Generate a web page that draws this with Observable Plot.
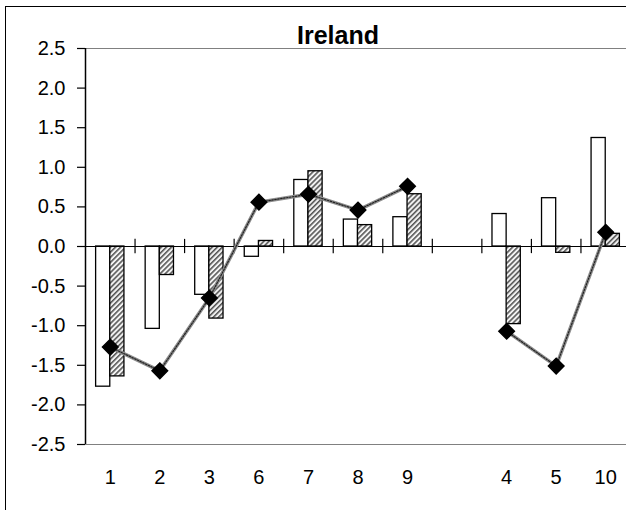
<!DOCTYPE html>
<html>
<head>
<meta charset="utf-8">
<script src="https://cdn.jsdelivr.net/npm/d3@7"></script>
<script src="https://cdn.jsdelivr.net/npm/@observablehq/plot@0.6"></script>
<style>
  html, body { margin: 0; padding: 0; background: #fff; overflow: hidden; }
  #wrap { position: relative; width: 626px; height: 510px; overflow: hidden; }
  #chart { position: absolute; left: 0; top: 0; }
  #chart svg { max-width: none; background: transparent; }
  #border { position: absolute; left: 5px; top: 6px; width: 800px; height: 800px; border: 1.5px solid #000; pointer-events: none; }
</style>
</head>
<body>
<div id="wrap"><div id="chart"></div><div id="border"></div></div>
<script>
const title = "Ireland";
const categories = ["1", "2", "3", "6", "7", "8", "9", " ", "4", "5", "10"];
const whiteVals = [-1.77, -1.04, -0.61, -0.13, 0.84, 0.34, 0.37, null, 0.41, 0.61, 1.37];
const hatchVals = [-1.64, -0.36, -0.91, 0.07, 0.95, 0.27, 0.66, null, -0.98, -0.08, 0.16];
const lineVals  = [-1.27, -1.57, -0.65, 0.56, 0.66, 0.46, 0.76, null, -1.07, -1.51, 0.18];
const yTicks = [-2.5, -2.0, -1.5, -1.0, -0.5, 0.0, 0.5, 1.0, 1.5, 2.0, 2.5];

const rows = categories.map((c, i) => ({cat: c, w: whiteVals[i], h: hatchVals[i], l: lineVals[i]}));

const W = 630, H = 510, mL = 85, mR = 0, mT = 48, mB = 66;
const step = (W - mL - mR) / categories.length;
const bw = step / 3.5;
const half = step / 2;
const font = "Liberation Sans, Arial, Helvetica, sans-serif";

const chart = Plot.plot({
  width: W,
  height: H,
  marginLeft: mL,
  marginRight: mR,
  marginTop: mT,
  marginBottom: mB,
  style: {fontFamily: font, fontSize: "20px", background: "transparent", color: "#000"},
  x: {type: "band", domain: categories, paddingInner: 0, paddingOuter: 0, round: false, axis: null, label: null},
  y: {domain: [-2.5, 2.5], axis: null, label: null},
  marks: [
    Plot.ruleY([yTicks[0], yTicks[yTicks.length - 1]], {stroke: "#808080", strokeWidth: 1.2}),
    Plot.barY(rows, {x: "cat", y: "w", fill: "#fff", stroke: "#000", strokeWidth: 1.3,
      insetLeft: half - bw, insetRight: half}),
    Plot.barY(rows, {x: "cat", y: "h", fill: "url(#hatch)", stroke: "#000", strokeWidth: 1.3,
      insetLeft: half, insetRight: half - bw}),
    Plot.ruleY([0], {stroke: "#000", strokeWidth: 1.2}),
    Plot.ruleX(categories.slice(1), {x: d => d, y1: -0.09, y2: 0.09, dx: -half, stroke: "#000", strokeWidth: 1.2}),
    Plot.ruleX(categories.slice(0, 1), {x: d => d, y1: -2.5, y2: 2.5, dx: -half, stroke: "#000", strokeWidth: 1.5}),
    Plot.lineY(rows, {x: "cat", y: "l", stroke: "#8c8c8c", strokeWidth: 3.5, curve: "linear"}),
    Plot.lineY(rows, {x: "cat", y: "l", stroke: "#222", strokeWidth: 1.2, strokeDasharray: "1.5,1.5", curve: "linear"}),
    Plot.dot(rows.filter(d => d.l != null), {x: "cat", y: "l", symbol: "diamond2", r: 7, fill: "#000", stroke: "#000"}),
    Plot.axisY(yTicks, {anchor: "left", tickSize: 8, tickPadding: 12, strokeWidth: 1.2, label: null,
      tickFormat: d => d.toFixed(1), fontSize: 20, fontFamily: font}),
    Plot.axisX({anchor: "bottom", tickSize: 0, tickPadding: 25, fontSize: 20, fontFamily: font, label: null,
      tickFormat: d => d.trim()}),
    Plot.text([title], {text: d => d, frameAnchor: "top", dx: -20, dy: -5, lineAnchor: "bottom",
      fontSize: 25, fontWeight: "bold", fontFamily: font, letterSpacing: 1.4, fill: "#000"})
  ]
});

const svg = d3.select(chart);
const defs = svg.insert("defs", ":first-child");
const pat = defs.append("pattern")
  .attr("id", "hatch")
  .attr("patternUnits", "userSpaceOnUse")
  .attr("width", 3.6).attr("height", 3.6)
  .attr("patternTransform", "rotate(45)");
pat.append("rect").attr("width", 3.6).attr("height", 3.6).attr("fill", "#f2f2f2");
pat.append("line").attr("x1", 0.8).attr("y1", 0).attr("x2", 0.8).attr("y2", 3.6)
  .attr("stroke", "#333").attr("stroke-width", 1.3);

document.getElementById("chart").appendChild(chart);
</script>
</body>
</html>
